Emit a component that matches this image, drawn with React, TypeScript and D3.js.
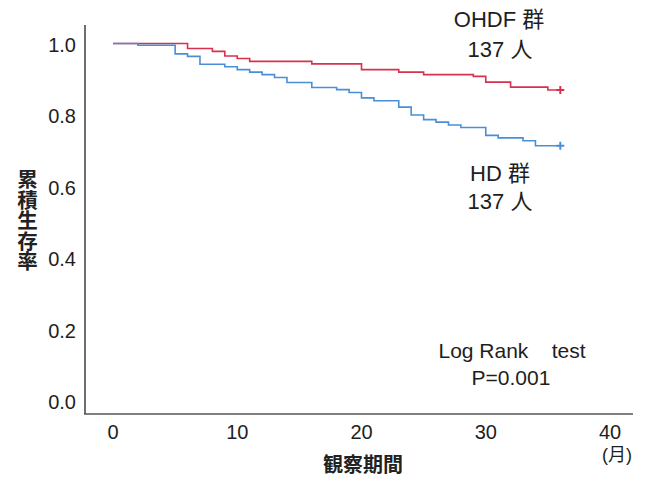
import React from "react";
import * as d3 from "d3";

// survival curves (month, cumulative survival)
const ohdfMonths = [0, 6, 8, 9, 10, 11, 16, 20, 23, 25, 29, 30, 32, 35, 36];
const ohdfSurv = [1, 0.986, 0.978, 0.965, 0.958, 0.95, 0.943, 0.927, 0.92, 0.913, 0.908, 0.892, 0.878, 0.87, 0.87];

const hdMonths = [0, 2, 5, 6, 7, 9, 10, 11, 12, 13, 14, 16, 18, 19, 20, 21, 23, 24, 25, 26, 27, 28, 30, 31, 33, 34, 36];
const hdSurv = [1, 0.995, 0.971, 0.964, 0.942, 0.935, 0.927, 0.92, 0.913, 0.905, 0.891, 0.877, 0.871, 0.863, 0.848, 0.84, 0.822, 0.8, 0.787, 0.78, 0.772, 0.765, 0.743, 0.736, 0.728, 0.714, 0.714];

const xTicks = [0, 10, 20, 30, 40];
const yTicks = [0, 0.2, 0.4, 0.6, 0.8, 1.0];

const latin = "'Liberation Sans', Arial, sans-serif";
const cjk = "'Liberation Sans', 'Noto Sans CJK JP', sans-serif";

const App = () => {
    const width = 651;
    const height = 477;

    const xScale = d3.scaleLinear().domain([0, 40]).range([113, 610]);
    const yScale = d3.scaleLinear().domain([0, 1]).range([401, 43.5]);

    const line = d3.line<[number, number]>()
        .x(d => xScale(d[0]))
        .y(d => yScale(d[1]))
        .curve(d3.curveStepAfter);

    const ohdf: [number, number][] = ohdfMonths.map((m, i) => [m, ohdfSurv[i]]);
    const hd: [number, number][] = hdMonths.map((m, i) => [m, hdSurv[i]]);

    const red = "#d8314f";
    const blue = "#4a8fd6";

    const cross = (pts: [number, number][], color: string) => {
        const last = pts[pts.length - 1];
        const cx = xScale(last[0]);
        const cy = yScale(last[1]);
        return (
            <g stroke={color} strokeWidth={2}>
                <line x1={cx - 4} x2={cx + 4} y1={cy} y2={cy} />
                <line x1={cx} x2={cx} y1={cy - 4} y2={cy + 4} />
            </g>
        );
    };

    return (
        <svg width={width} height={height} style={{ position: "absolute", left: 0, top: 0 }}>
            <rect width={width} height={height} fill="#fff" />

            {/* axes */}
            <line x1={85} x2={85} y1={25} y2={414} stroke="#6e6e6e" strokeWidth={2} />
            <line x1={84} x2={633} y1={414} y2={414} stroke="#555" strokeWidth={1.5} />

            {/* y tick labels */}
            {yTicks.map(t => (
                <text key={t} x={76} y={yScale(t) + 8} textAnchor="end"
                      fontFamily={latin} fontSize={20} fill="#1e1e1e">{t.toFixed(1)}</text>
            ))}

            {/* x tick labels */}
            {xTicks.map(t => (
                <text key={t} x={xScale(t)} y={439} textAnchor="middle"
                      fontFamily={latin} fontSize={20} fill="#1e1e1e">{t}</text>
            ))}
            <text x={617} y={461} textAnchor="middle" fontFamily={cjk} fontSize={18} fill="#1e1e1e">(月)</text>

            {/* curves */}
            <path d={line(ohdf) || ""} fill="none" stroke={red} strokeWidth={1.6} />
            <path d={line(hd) || ""} fill="none" stroke={blue} strokeWidth={1.6} />
            {cross(ohdf, red)}
            {cross(hd, blue)}

            {/* group labels */}
            <g fontFamily={cjk} fontSize={22} fill="#1e1e1e" textAnchor="middle">
                <text x={499} y={27}>OHDF 群</text>
                <text x={500} y={57}>137 人</text>
                <text x={500} y={181}>HD 群</text>
                <text x={500} y={209}>137 人</text>
            </g>

            {/* test */}
            <g fontFamily={latin} fontSize={21} fill="#1e1e1e" textAnchor="middle">
                <text x={512} y={358} style={{ whiteSpace: "pre" }}>Log Rank    test</text>
                <text x={511} y={385}>P=0.001</text>
            </g>

            {/* axis titles */}
            <text x={363} y={472} textAnchor="middle" fontFamily="'Noto Sans CJK JP', sans-serif"
                  fontSize={20} fontWeight={600} fill="#222">観察期間</text>
            <text x={27.5} y={169} fontFamily="'Noto Sans CJK JP', sans-serif" fontSize={20.5}
                  fontWeight={600} fill="#222" style={{ writingMode: "vertical-rl" }}>累積生存率</text>
        </svg>
    );
};

export default App;
